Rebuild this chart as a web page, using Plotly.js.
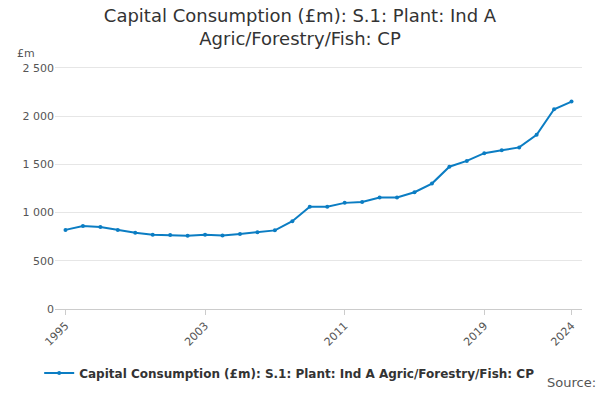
<!DOCTYPE html>
<html>
<head>
<meta charset="utf-8">
<script src="https://cdn.plot.ly/plotly-3.0.1.min.js"></script>
<style>html,body{margin:0;padding:0;background:#fff}#chart{width:600px;height:400px}</style>
</head>
<body>
<div id="chart"></div>
<script>
// ---- Data ----
const years = [1995,1996,1997,1998,1999,2000,2001,2002,2003,2004,2005,2006,2007,2008,2009,
               2010,2011,2012,2013,2014,2015,2016,2017,2018,2019,2020,2021,2022,2023,2024];
const values = [820,860,850,820,790,770,768,760,770,762,778,795,815,910,1060,
                1060,1100,1110,1155,1155,1210,1300,1475,1535,1615,1645,1675,1805,2070,2150];
const xTicks = [1995,2003,2011,2019,2024];
const yTicks = [0,500,1000,1500,2000,2500];
const seriesName = '<b>Capital Consumption (£m): S.1: Plant: Ind A Agric/Forestry/Fish: CP</b>';

Plotly.newPlot('chart', [{
  x: years, y: values, type: 'scatter', mode: 'lines+markers',
  name: seriesName,
  line: { color: '#0b7dc3', width: 2 },
  marker: { color: '#0b7dc3', size: 4 },
}], {
  width: 600, height: 400,
  font: { family: 'DejaVu Sans, sans-serif', color: '#333' },
  separators: '. ',
  title: { text: 'Capital Consumption (£m): S.1: Plant: Ind A<br>Agric/Forestry/Fish: CP',
           font: { size: 18, color: '#333' }, x: 0.5, y: 0.945 },
  margin: { l: 55, r: 18, t: 62, b: 89 },
  xaxis: {
    range: [1994.4, 2024.6], tickvals: xTicks, tickangle: -45,
    ticks: 'outside', ticklen: 5, tickcolor: '#ccc',
    showgrid: false, showline: true, linecolor: '#ccc',
    tickfont: { size: 11, color: '#555' },
  },
  yaxis: {
    range: [0, 2560], tickvals: yTicks, tickformat: ',d',
    gridcolor: '#e6e6e6', zeroline: false,
    tickfont: { size: 11, color: '#555' },
  },
  showlegend: true,
  legend: { orientation: 'h', x: -0.03, y: -0.2, xanchor: 'left', yanchor: 'top',
            font: { size: 12, color: '#333' } },
  annotations: [
    { text: '£m', xref: 'paper', yref: 'paper', x: -0.075, y: 1.07, xanchor: 'left',
      showarrow: false, font: { size: 11, color: '#555' } },
    { text: 'Source:', xref: 'paper', yref: 'paper', x: 1.03, y: -0.335, xanchor: 'right',
      showarrow: false, font: { size: 13, color: '#555' } },
  ],
}, { displayModeBar: false });
</script>
</body>
</html>
